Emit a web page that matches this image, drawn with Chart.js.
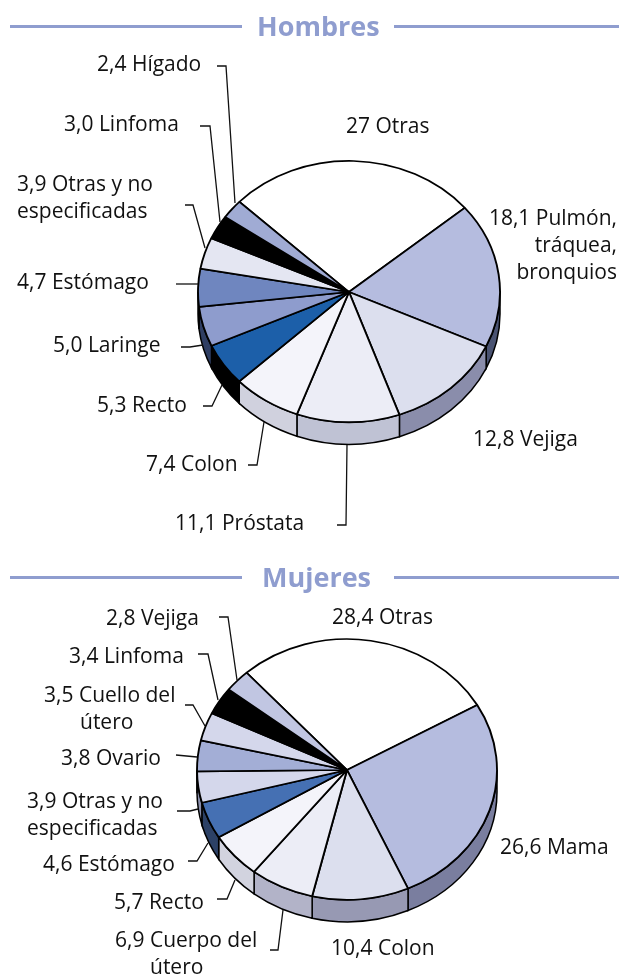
<!DOCTYPE html>
<html lang="es">
<head>
<meta charset="UTF-8">
<title>Hombres y Mujeres</title>
<script src="https://cdn.jsdelivr.net/npm/chart.js"></script>
<style>
    html, body { margin: 0; padding: 0; background: #fff; }
    body { position: relative; width: 619px; height: 974px; overflow: hidden; font-family: "Open Sans", "Noto Sans", sans-serif; color: #111; }
    canvas { position: absolute; left: 0; }
    .rule { position: absolute; height: 3px; background: #8f9dcf; }
    .head { position: absolute; font-weight: 700; font-size: 27px; line-height: 30px; color: #8f9dcf; }
    .lbl { position: absolute; font-size: 21px; line-height: 26px; white-space: pre; }
</style>
</head>
<body>
<canvas id="hombres" width="619" height="550" style="top:0"></canvas>
<canvas id="mujeres" width="619" height="424" style="top:550px"></canvas>

<script>
    // Hombres
    const menLabels = ['27 Otras', '18,1 Pulmón,\ntráquea,\nbronquios', '12,8 Vejiga', '11,1 Próstata', '7,4 Colon', '5,3 Recto', '5,0 Laringe', '4,7 Estómago', '3,9 Otras y no\nespecificadas', '3,0 Linfoma', '2,4 Hígado'];
    const menValues = [27, 18.1, 12.8, 11.1, 7.4, 5.3, 5.0, 4.7, 3.9, 3.0, 2.4];
    const menColors = ['#ffffff', '#b5bcdf', '#dcdfee', '#ecedf6', '#f4f4fa', '#1c5fa9', '#8e9ccd', '#6f86bf', '#e4e6f2', '#000000', '#a0abd4'];
    const menSides = ['#ffffff', '#4a5372', '#8a8dab', '#bfc2d4', '#d0d1de', '#000000', '#2f3e63', '#2f3e63', '#8a8dab', '#000000', '#4a5372'];

    // Mujeres
    const womenLabels = ['28,4 Otras', '26,6 Mama', '10,4 Colon', '6,9 Cuerpo del\nútero', '5,7 Recto', '4,6 Estómago', '3,9 Otras y no\nespecificadas', '3,8 Ovario', '3,5 Cuello del\nútero', '3,4 Linfoma', '2,8 Vejiga'];
    const womenValues = [28.4, 26.6, 10.4, 6.9, 5.7, 4.6, 3.9, 3.8, 3.5, 3.4, 2.8];
    const womenColors = ['#ffffff', '#b5bcdf', '#dcdfee', '#ecedf6', '#f4f4fa', '#4570b3', '#d4d7eb', '#a3aed6', '#d4d7eb', '#000000', '#c1c6e2'];
    const womenSides = ['#ffffff', '#7a7e9f', '#9799b3', '#b2b3c8', '#d2d3df', '#2c4166', '#8b90ad', '#4a5372', '#8b90ad', '#000000', '#4a5372'];

    // posicion de cada etiqueta: [ancla, x de cada linea, y centro de la primera linea]
    const menLabelPos = [['left', [346], 125], ['right', [617], 217], ['left', [473], 438], ['left', [175], 522], ['left', [146], 463], ['left', [97], 404], ['left', [53], 344], ['left', [17], 281], ['left', [17], 183], ['left', [64], 123], ['left', [97], 63]];
    const womenLabelPos = [['left', [332], 616], ['left', [500], 846], ['left', [331], 947], ['left', [115, 150], 939], ['left', [114], 901], ['left', [43], 863], ['left', [27], 800], ['left', [61], 757], ['left', [44, 80], 694], ['left', [69], 655], ['left', [106], 617]];

    // lineas guia
    const menLeaders = [
        [[217, 66], [226, 66], [235, 203]],
        [[200, 126], [210, 126], [220, 222]],
        [[185, 205], [193, 205], [205, 248]],
        [[176, 284], [198, 284]],
        [[181, 347], [190, 347], [203, 345]],
        [[203, 406], [212, 406], [222, 385]],
        [[248, 465], [257, 465], [264, 422]],
        [[337, 525], [346, 525], [347, 445]]
    ];
    const womenLeaders = [
        [[219, 617], [228, 617], [237, 680]],
        [[198, 654], [208, 654], [218, 700]],
        [[185, 705], [193, 705], [205, 726]],
        [[176, 755], [197, 757]],
        [[177, 811], [190, 811], [198, 809]],
        [[188, 861], [197, 861], [208, 843]],
        [[217, 899], [227, 899], [235, 880]],
        [[270, 950], [278, 950], [283, 910]]
    ];

    // dibuja la torta achatada con su canto, en dos mitades porque el vertice no esta en el centro de la elipse
    const pie3d = {
        id: 'pie3d',
        beforeDatasetsDraw(chart, args, o) {
            const ctx = chart.ctx;
            const arcs = chart.getDatasetMeta(0).data;
            const cx = arcs[0].x, cy = arcs[0].y, r = arcs[0].outerRadius;
            const ryLow = r * o.scaleLow;

            arcs.forEach((arc, i) => {
                // angulos normalizados a la parte de abajo
                let s = arc.startAngle, e = arc.endAngle;
                while (s > Math.PI) { s -= 2 * Math.PI; e -= 2 * Math.PI; }
                while (e < 0) { s += 2 * Math.PI; e += 2 * Math.PI; }
                const from = Math.max(s, 0), to = Math.min(e, Math.PI);
                if (to <= from) return;
                ctx.beginPath();
                ctx.ellipse(cx, cy, r, ryLow, 0, from, to);
                ctx.ellipse(cx, cy + o.depth, r, ryLow, 0, to, from, true);
                ctx.closePath();
                ctx.fillStyle = o.sides[i];
                ctx.fill();
                ctx.lineWidth = 1.5;
                ctx.strokeStyle = '#000';
                ctx.stroke();
            });

            [[0, cy, o.scaleHigh], [cy, chart.height - cy, o.scaleLow]].forEach(([top, h, k]) => {
                ctx.save();
                ctx.beginPath();
                ctx.rect(0, top, chart.width, h);
                ctx.clip();
                ctx.translate(cx, cy);
                ctx.scale(1, k);
                ctx.translate(-cx, -cy);
                arcs.forEach(arc => arc.draw(ctx));
                ctx.restore();
            });

            ctx.strokeStyle = '#111';
            ctx.lineWidth = 1.3;
            o.leaders.forEach(line => {
                ctx.beginPath();
                line.forEach(([x, y], i) => {
                    if (i === 0) ctx.moveTo(x, y - o.top); else ctx.lineTo(x, y - o.top);
                });
                ctx.stroke();
            });
            return false;
        }
    };

    function makePie(id, values, colors, sides, leaders, rotation, radius, top, padTop, padLeft, scaleHigh, scaleLow) {
        new Chart(document.getElementById(id), {
            type: 'pie',
            data: {
                datasets: [{
                    data: values,
                    backgroundColor: colors,
                    borderColor: '#000',
                    borderWidth: 1.9,
                    radius: radius
                }]
            },
            options: {
                responsive: false,
                animation: false,
                rotation: rotation,
                layout: { padding: { top: padTop, left: padLeft, right: 0, bottom: 0 } },
                plugins: {
                    legend: { display: false },
                    tooltip: { enabled: false },
                    pie3d: { sides: sides, depth: 22, leaders: leaders, top: top, scaleHigh: scaleHigh, scaleLow: scaleLow }
                }
            },
            plugins: [pie3d]
        });
    }

    makePie('hombres', menValues, menColors, menSides, menLeaders, -46.5, 151, 0, 34, 79, 0.868, 0.862);
    makePie('mujeres', womenValues, womenColors, womenSides, womenLeaders, -42, 150, 550, 16, 75, 0.873, 0.865);

    function addLabels(labels, pos) {
        labels.forEach((text, i) => {
            const [anchor, xs, y] = pos[i];
            text.split('\n').forEach((line, j) => {
                const el = document.createElement('div');
                el.className = 'lbl';
                el.textContent = line;
                const x = xs[j] !== undefined ? xs[j] : xs[0];
                el.style.top = (y + j * 27 - 13) + 'px';
                if (anchor === 'left') el.style.left = x + 'px';
                else el.style.right = (619 - x) + 'px';
                document.body.appendChild(el);
            });
        });
    }
    addLabels(menLabels, menLabelPos);
    addLabels(womenLabels, womenLabelPos);

    function addHead(text, y, x) {
        const h = document.createElement('div');
        h.className = 'head';
        h.textContent = text;
        h.style.left = x + 'px';
        h.style.top = (y - 15) + 'px';
        document.body.appendChild(h);
        [[10, 232], [394, 225]].forEach(([l, w]) => {
            const r = document.createElement('div');
            r.className = 'rule';
            r.style.left = l + 'px';
            r.style.width = w + 'px';
            r.style.top = (y - 1) + 'px';
            document.body.appendChild(r);
        });
    }
    addHead('Hombres', 26, 257);
    addHead('Mujeres', 577, 262);
</script>
</body>
</html>
